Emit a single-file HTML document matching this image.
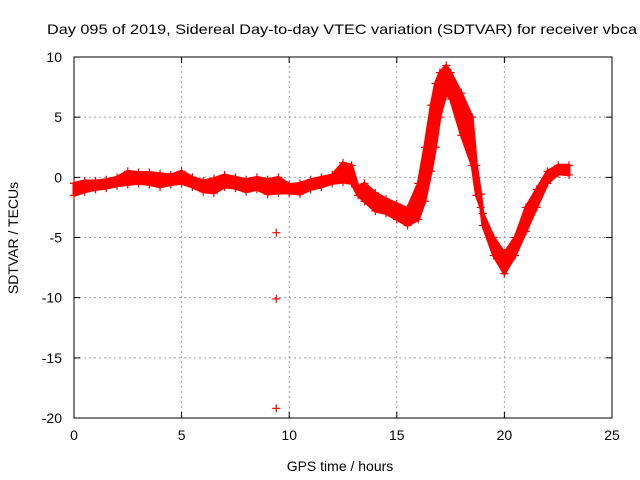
<!DOCTYPE html>
<html><head><meta charset="utf-8"><style>
body{margin:0;background:#fff;}
svg{display:block;font-family:"Liberation Sans",sans-serif;}
</style></head><body>
<svg id="chart" width="640" height="480" viewBox="0 0 640 480">
<text x="47" y="34" font-size="14" textLength="590" lengthAdjust="spacingAndGlyphs">Day 095 of 2019, Sidereal Day-to-day VTEC variation (SDTVAR) for receiver vbca</text>
<g id="grid"></g>
<g id="axes"></g>
<g id="data"></g>
<text x="340" y="471" font-size="14" text-anchor="middle">GPS time / hours</text>
<text transform="translate(18,238) rotate(-90)" font-size="14" text-anchor="middle">SDTVAR / TECUs</text>
</svg>
<script>
const times=[0,0.5,1,1.5,2,2.5,3,3.5,4,4.5,5,5.5,6,6.5,7,7.5,8,8.5,9,9.5,10,10.5,11,11.5,12,12.5,12.9,13.2,13.5,14,14.5,15,15.5,16,16.3,16.6,16.8,17,17.3,17.5,18,18.5,18.7,18.9,19,19.5,20,20.5,21,21.5,22,22.5,23];
const upper=[-0.5,-0.3,-0.3,-0.2,0,0.5,0.4,0.4,0.3,0.2,0.5,0,-0.3,-0.1,0.2,0,-0.2,0,-0.2,0,-0.6,-0.5,-0.2,0,0.2,1.2,1,-0.8,-0.5,-1.3,-1.8,-2.2,-2.6,-0.5,2.5,6,7.8,8.7,9.3,8.7,7,5,1,-1.4,-3,-5,-6.3,-5,-2.5,-1,0.5,1,1];
const lower=[-1.5,-1.2,-1,-0.9,-0.7,-0.6,-0.5,-0.6,-0.8,-0.6,-0.5,-0.8,-1.2,-1.3,-0.8,-0.9,-1.2,-1,-1.4,-1.3,-1.3,-1.4,-1,-0.8,-0.5,-0.4,-0.5,-1.5,-2,-2.8,-3,-3.5,-4,-3.5,-2,0.5,2.5,5,7,6.5,3.5,1,-1.5,-2.5,-4,-6.5,-8,-6.5,-4.5,-2.5,-0.5,0.3,0.2];
const outT=[9.4,9.4,9.4,18.9];
const outV=[-4.6,-10.1,-19.2,-1.4];
const xTicks=[0,5,10,15,20,25];
const yTicks=[-20,-15,-10,-5,0,5,10];
const X0=74,X1=612,Y0=418,Y1=57;
const sx=v=>X0+(v-0)/(25-0)*(X1-X0);
const sy=v=>Y0-(v+20)/30*(Y0-Y1);
const NS="http://www.w3.org/2000/svg";
function mk(tag,attrs,parent){const e=document.createElementNS(NS,tag);for(const k in attrs)e.setAttribute(k,attrs[k]);parent.appendChild(e);return e;}
const grid=document.getElementById('grid'),axes=document.getElementById('axes'),data=document.getElementById('data');
xTicks.forEach(t=>{
  if(t>0&&t<25){const l=mk('line',{x1:sx(t),x2:sx(t),y1:Y0,y2:Y1,stroke:'#a0a0a0','stroke-dasharray':'2,3'},grid);
  
  }
  const tk=mk('path',{d:`M${sx(t)},${Y0}v-6M${sx(t)},${Y1}v6`,stroke:'#000'},axes);
  
  
  const tx=mk('text',{x:sx(t),y:Y0+22,'font-size':14,'text-anchor':'middle'},axes);tx.textContent=t;
  
  
});
yTicks.forEach(t=>{
  if(t>-20&&t<10){const l=mk('line',{x1:X0,x2:X1,y1:sy(t),y2:sy(t),stroke:'#a0a0a0','stroke-dasharray':'2,3'},grid);
  
  }
  const tk=mk('path',{d:`M${X0},${sy(t)}h6M${X1},${sy(t)}h-6`,stroke:'#000'},axes);
  
  
  const tx=mk('text',{x:X0-12,y:sy(t)+5,'font-size':14,'text-anchor':'end'},axes);tx.textContent=t;
  
  
});
const fr=mk('rect',{x:X0,y:Y1,width:X1-X0,height:Y0-Y1,fill:'none',stroke:'#000'},axes);


let pts=times.map((t,i)=>`${sx(t)},${sy(upper[i])}`);
for(let i=times.length-1;i>=0;i--)pts.push(`${sx(times[i])},${sy(lower[i])}`);
const band=mk('polygon',{points:pts.join(' '),fill:'#ff0000',stroke:'#ff0000','stroke-width':3,'stroke-linejoin':'round'},data);


function plus(t,v,name){const p=mk('path',{d:`M${sx(t)-4},${sy(v)}h8M${sx(t)},${sy(v)-4}v8`,stroke:'#ff0000','stroke-width':1.2},data);
  
  }
times.forEach((t,i)=>{plus(t,upper[i],'point-upper');plus(t,lower[i],'point-lower');});
outT.forEach((t,i)=>plus(t,outV[i],'outlier-point'));
</script>
</body></html>
